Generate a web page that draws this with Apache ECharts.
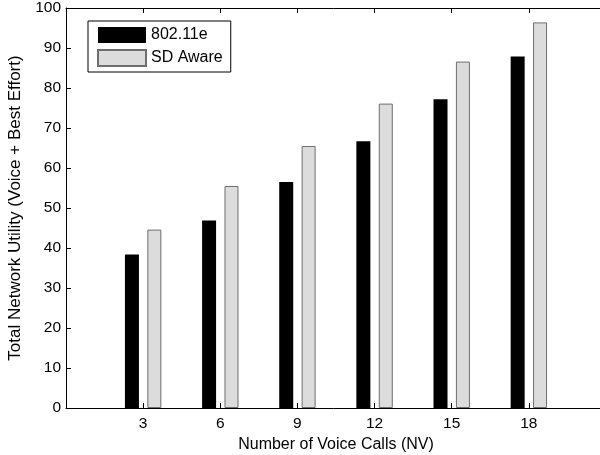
<!DOCTYPE html>
<html>
<head>
<meta charset="utf-8">
<script src="https://cdn.jsdelivr.net/npm/echarts@6/dist/echarts.min.js"></script>
<style>
  html, body { margin: 0; padding: 0; background: #fff; }
  #chart { width: 600px; height: 455px; }
</style>
</head>
<body>
<div id="chart"></div>
<script>
// Number of voice calls (NV) on the x axis
var voiceCalls = [3, 6, 9, 12, 15, 18];
// Total network utility per scheme
var util80211e = [38.4, 46.9, 56.5, 66.7, 77.2, 87.9];
var utilSDAware = [44.6, 55.5, 65.5, 76.1, 86.6, 96.4];
var yTicks = [0, 10, 20, 30, 40, 50, 60, 70, 80, 90, 100];

var FONT = 'Liberation Sans, Arial, Helvetica, sans-serif';

function pairs(xs, ys) {
  return xs.map(function (x, i) { return [x, ys[i]]; });
}

var chart = echarts.init(document.getElementById('chart'), null, { renderer: 'canvas' });

chart.setOption({
  animation: false,
  backgroundColor: '#fff',
  textStyle: { fontFamily: FONT, color: '#000' },
  // x range 0..21 runs slightly past the right edge of the canvas
  grid: {
    left: 66, top: 8, width: 540, height: 400,
    outerBoundsMode: 'none',
    containLabel: false,
    show: false
  },
  legend: {
    orient: 'vertical',
    left: 88, top: 21,
    padding: [6, 8, 5, 9],
    itemGap: 6,
    itemWidth: 48, itemHeight: 16,
    backgroundColor: '#fff',
    borderColor: '#000', borderWidth: 1,
    textStyle: { fontFamily: FONT, fontSize: 16, color: '#000' },
    data: [
      { name: '802.11e', icon: 'rect' },
      { name: 'SD Aware', icon: 'rect' }
    ]
  },
  xAxis: [{
    type: 'value', min: 0, max: 21, interval: 3,
    position: 'bottom',
    name: 'Number of Voice Calls (NV)',
    nameLocation: 'middle', nameGap: 27,
    nameTextStyle: { fontFamily: FONT, fontSize: 16, color: '#000' },
    axisLine: { show: true, lineStyle: { color: '#000', width: 1 } },
    axisTick: { show: true, inside: true, length: 5, lineStyle: { color: '#000' } },
    axisLabel: {
      fontFamily: FONT, fontSize: 15.5, color: '#000', margin: 8,
      formatter: function (v) { return voiceCalls.indexOf(v) >= 0 ? String(v) : ''; }
    },
    splitLine: { show: false }
  }, {
    // top frame line with mirrored ticks
    type: 'value', min: 0, max: 21, interval: 3,
    position: 'top',
    axisLine: { show: true, lineStyle: { color: '#000', width: 1 } },
    axisTick: { show: true, inside: true, length: 5, lineStyle: { color: '#000' } },
    axisLabel: { show: false },
    splitLine: { show: false }
  }],
  yAxis: {
    type: 'value', min: 0, max: 100, interval: 10,
    name: 'Total Network Utility (Voice + Best Effort)',
    nameLocation: 'middle', nameGap: 39,
    nameTextStyle: { fontFamily: FONT, fontSize: 17, color: '#000' },
    axisLine: { show: true, lineStyle: { color: '#000', width: 1 } },
    axisTick: { show: true, inside: true, length: 5, lineStyle: { color: '#000' } },
    axisLabel: {
      fontFamily: FONT, fontSize: 15.5, color: '#000', margin: 5,
      formatter: function (v) { return yTicks.indexOf(v) >= 0 ? String(v) : ''; }
    },
    splitLine: { show: false }
  },
  series: [{
    name: '802.11e',
    type: 'bar',
    barWidth: 14,
    barGap: '60%',
    itemStyle: { color: '#000' },
    data: pairs(voiceCalls, util80211e)
  }, {
    name: 'SD Aware',
    type: 'bar',
    barWidth: 14,
    barGap: '60%',
    itemStyle: { color: '#dcdcdc', borderColor: '#6e6e6e', borderWidth: 1 },
    data: pairs(voiceCalls, utilSDAware)
  }]
});
</script>
</body>
</html>
